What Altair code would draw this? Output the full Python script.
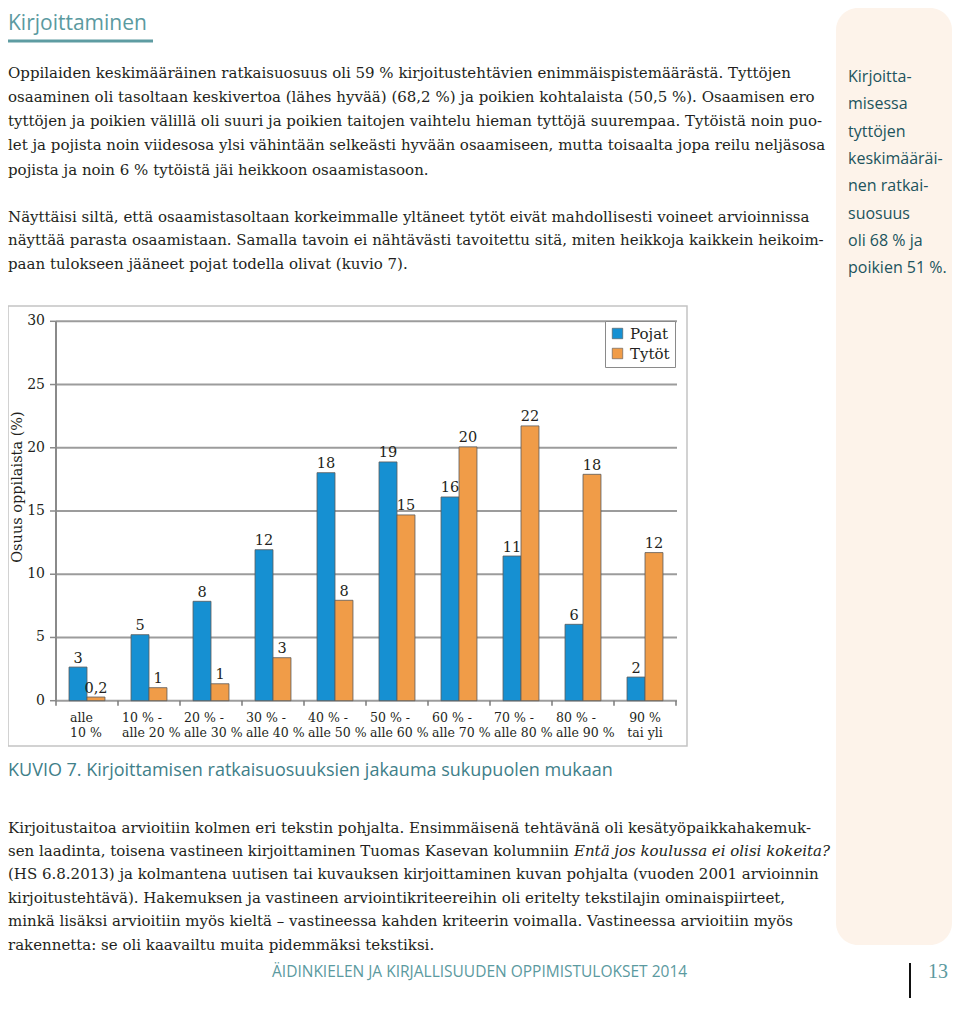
import altair as alt
import pandas as pd

# ---------------- data ----------------
categories = ["alle\n10 %", "10 % -\nalle 20 %", "20 % -\nalle 30 %", "30 % -\nalle 40 %",
              "40 % -\nalle 50 %", "50 % -\nalle 60 %", "60 % -\nalle 70 %", "70 % -\nalle 80 %",
              "80 % -\nalle 90 %", "90 %\ntai yli"]
series = ["Pojat", "Tytöt"]
pojat = [2.66, 5.22, 7.86, 11.94, 18.03, 18.88, 16.11, 11.44, 6.04, 1.87]
tytot = [0.29, 1.03, 1.34, 3.40, 7.94, 14.69, 20.07, 21.73, 17.9, 11.71]
pojat_labels = ["3", "5", "8", "12", "18", "19", "16", "11", "6", "2"]
tytot_labels = ["0,2", "1", "1", "3", "8", "15", "20", "22", "18", "12"]
y_ticks = [0, 5, 10, 15, 20, 25, 30]
y_title = "Osuus oppilaista (%)"

page_title = "Kirjoittaminen"
para1 = [
    "Oppilaiden keskimääräinen ratkaisuosuus oli 59 % kirjoitustehtävien enimmäispistemäärästä.  Tyttöjen",
    "osaaminen oli tasoltaan keskivertoa (lähes hyvää) (68,2 %) ja poikien kohtalaista (50,5 %). Osaamisen ero",
    "tyttöjen ja poikien välillä oli suuri ja poikien taitojen vaihtelu hieman tyttöjä suurempaa. Tytöistä noin puo-",
    "let ja pojista noin viidesosa ylsi vähintään selkeästi hyvään osaamiseen, mutta toisaalta jopa reilu neljäsosa",
    "pojista ja noin 6 % tytöistä jäi heikkoon osaamistasoon.",
]
para2 = [
    "Näyttäisi siltä, että osaamistasoltaan korkeimmalle yltäneet tytöt eivät mahdollisesti voineet arvioinnissa",
    "näyttää parasta osaamistaan. Samalla tavoin ei nähtävästi tavoitettu sitä, miten heikkoja kaikkein heikoim-",
    "paan tulokseen jääneet pojat todella olivat (kuvio 7).",
]
para3 = [
    "Kirjoitustaitoa arvioitiin kolmen eri tekstin pohjalta. Ensimmäisenä tehtävänä oli  kesätyöpaikkahakemuk-",
    "sen laadinta, toisena vastineen kirjoittaminen Tuomas Kasevan kolumniin",
    "(HS 6.8.2013) ja kolmantena uutisen tai kuvauksen kirjoittaminen kuvan pohjalta (vuoden 2001 arvioinnin",
    "kirjoitustehtävä). Hakemuksen ja vastineen arviointikriteereihin oli eritelty tekstilajin ominaispiirteet,",
    "minkä lisäksi arvioitiin myös kieltä – vastineessa kahden kriteerin voimalla. Vastineessa arvioitiin myös",
    "rakennetta: se oli kaavailtu muita pidemmäksi tekstiksi.",
]
para3_italic = "Entä jos koulussa ei olisi kokeita?"
sidebar = ["Kirjoitta-", "misessa", "tyttöjen", "keskimääräi-", "nen ratkai-", "suosuus",
           "oli 68 % ja", "poikien 51 %."]
caption = "KUVIO 7. Kirjoittamisen ratkaisuosuuksien jakauma sukupuolen mukaan"
footer = "ÄIDINKIELEN JA KIRJALLISUUDEN OPPIMISTULOKSET 2014"
page_no = "13"

# ---------------- tables ----------------
rows = []
for i, c in enumerate(categories):
    rows.append({"cat": c, "idx": i, "sex": series[0], "value": pojat[i], "label": pojat_labels[i]})
    rows.append({"cat": c, "idx": i, "sex": series[1], "value": tytot[i], "label": tytot_labels[i]})
bars_df = pd.DataFrame(rows)
cat_df = pd.DataFrame({"cat": categories, "idx": list(range(len(categories)))})
tick_df = pd.DataFrame({"value": y_ticks, "lab": [str(t) for t in y_ticks]})
one = pd.DataFrame({"k": [0]})

# ---------------- geometry (chart px = page px - 8) ----------------
O = 8
X0, X1 = 56 - O, 676 - O
YB, YT = 700.7 - O, 321.3 - O
W, H = 944, 990

SERIF = "DejaVu Serif"
SANS = "Open Sans"
INK = "#231f20"
TEAL = "#5b9aa0"
BLUE = "#1690d2"
ORANGE = "#f09c48"
BODY = 15

x_band = dict(domain=categories, range=[X0, X1], paddingInner=0.42, paddingOuter=0.21)
y_sc = alt.Scale(domain=[0, 30], range=[YB, YT])


def block(lines, x, y, size, font, color, lh, **kw):
    return alt.Chart(one).mark_text(text=lines, align="left", baseline="alphabetic", font=font,
                                    fontSize=size, color=color, lineHeight=lh, **kw).encode(
        x=alt.value(x), y=alt.value(y))


layers = []

# sidebar box
layers.append(alt.Chart(one).mark_rect(color="#fdf3ea", cornerRadius=22).encode(
    x=alt.value(836 - O), x2=alt.value(W), y=alt.value(0), y2=alt.value(945 - O)))

# title + underline
layers.append(block([page_title], 0, 30 - O, 21, SANS, TEAL, 20))
layers.append(alt.Chart(one).mark_rule(color="#5e9ca2", strokeWidth=3).encode(
    x=alt.value(0), x2=alt.value(153 - O), y=alt.value(41 - O)))

# paragraphs
layers.append(block(para1, 0, 77.7 - O, BODY, SERIF, INK, 24.25))
layers.append(block(para2, 0, 221.5 - O, BODY, SERIF, INK, 23.6))
layers.append(block(para3, 0, 832.5 - O, BODY, SERIF, INK, 23.4))
layers.append(block([para3_italic], 574 - O, 832.5 + 23.4 - O, BODY, SERIF, INK, 23.4,
                    fontStyle="italic"))

# sidebar text
layers.append(block(sidebar, 848 - O, 82 - O, 16, SANS, "#21535d", 27.3))

# chart frame
layers.append(alt.Chart(one).mark_rect(fill="white", stroke="#c4c4c4", strokeWidth=1.5).encode(
    x=alt.value(0), x2=alt.value(687 - O), y=alt.value(306 - O), y2=alt.value(746 - O)))

# gridlines
layers.append(alt.Chart(tick_df).mark_rule(color="#9c9c9c", strokeWidth=2).encode(
    y=alt.Y("value:Q", scale=y_sc, axis=None), x=alt.value(X0), x2=alt.value(X1 + 1)))
# y tick marks
layers.append(alt.Chart(tick_df).mark_rule(color="#8a8a8a", strokeWidth=1.5).encode(
    y=alt.Y("value:Q", scale=y_sc, axis=None), x=alt.value(X0 - 6), x2=alt.value(X0)))
# y axis line
layers.append(alt.Chart(one).mark_rule(color="#8a8a8a", strokeWidth=2).encode(
    x=alt.value(X0), y=alt.Y(datum=0, scale=y_sc, axis=None), y2=alt.Y2(datum=30)))
# y tick labels
layers.append(alt.Chart(tick_df).mark_text(align="right", baseline="middle", font=SERIF,
                                           fontSize=14, color=INK).encode(
    y=alt.Y("value:Q", scale=y_sc, axis=None), x=alt.value(45 - O), text="lab:N"))
# y title
layers.append(alt.Chart(one).mark_text(text=y_title, angle=270, align="center", baseline="middle",
                                       font=SERIF, fontSize=14.5, color=INK).encode(
    x=alt.value(10), y=alt.value(487 - O)))

# x tick marks at category boundaries
tick_x = dict(domain=categories, range=[X0, X1], paddingInner=0, paddingOuter=0)
layers.append(alt.Chart(cat_df).mark_rule(color="#7a7a7a", strokeWidth=1.5).encode(
    x=alt.X("cat:N", scale=alt.Scale(**tick_x), axis=None, bandPosition=0),
    y=alt.value(YB), y2=alt.value(YB + 5)))
layers.append(alt.Chart(cat_df).transform_filter(alt.datum.idx == len(categories) - 1).mark_rule(
    color="#7a7a7a", strokeWidth=1.5).encode(
    x=alt.X("cat:N", scale=alt.Scale(**tick_x), axis=None, bandPosition=1),
    y=alt.value(YB), y2=alt.value(YB + 5)))

# bars
layers.append(alt.Chart(bars_df).mark_bar(stroke="#5a5a5a", strokeWidth=0.8).encode(
    x=alt.X("cat:N", scale=alt.Scale(**x_band), axis=None, sort=categories),
    xOffset=alt.XOffset("sex:N", scale=alt.Scale(domain=series, paddingInner=0, paddingOuter=0)),
    y=alt.Y("value:Q", scale=y_sc, axis=None),
    color=alt.Color("sex:N", scale=alt.Scale(domain=series, range=[BLUE, ORANGE]),
                    legend=alt.Legend(title=None, orient="none", legendX=605 - O, legendY=321 - O,
                                      strokeColor="#8a8a8a", fillColor="white", padding=5,
                                      symbolType="square", symbolSize=110, symbolStrokeColor="#555",
                                      symbolStrokeWidth=0.6, labelFont=SERIF, labelFontSize=15,
                                      labelColor=INK, rowPadding=4, labelOffset=5)),
))
# value labels
layers.append(alt.Chart(bars_df).mark_text(baseline="alphabetic", dy=-4.5, font=SERIF, fontSize=14.5,
                                           color=INK).encode(
    x=alt.X("cat:N", scale=alt.Scale(**x_band), axis=None, sort=categories),
    xOffset=alt.XOffset("sex:N", scale=alt.Scale(domain=series, paddingInner=0, paddingOuter=0)),
    y=alt.Y("value:Q", scale=y_sc, axis=None),
    text="label:N"))

# category labels
def cat_labels(filt, align, dx):
    return alt.Chart(cat_df).transform_filter(filt).mark_text(
        align=align, baseline="alphabetic", dx=dx, lineBreak="\n", lineHeight=15, font=SERIF,
        fontSize=12.5, color=INK).encode(
        x=alt.X("cat:N", scale=alt.Scale(**x_band), axis=None, sort=categories),
        y=alt.value(722 - O), text="cat:N")

layers.append(cat_labels(alt.datum.idx == 0, "left", -17))
layers.append(cat_labels((alt.datum.idx > 0) & (alt.datum.idx < 9), "left", -27))
layers.append(cat_labels(alt.datum.idx == 9, "center", 0))

# caption
layers.append(block([caption], 0, 776 - O, 18, SANS, "#3f8089", 20))

# footer
layers.append(block([footer], 272 - O, 977 - O, 15.5, SANS, TEAL, 20))
layers.append(alt.Chart(one).mark_rule(color="#111", strokeWidth=2).encode(
    x=alt.value(910 - O), y=alt.value(963 - O), y2=alt.value(H)))
layers.append(block([page_no], 928 - O, 978 - O, 20, "Liberation Serif", TEAL, 20))

chart = alt.layer(*layers).resolve_scale(x="independent").properties(
    width=W, height=H, padding=0, autosize=alt.AutoSizeParams(type="none")
).configure_view(strokeWidth=0)

chart.save("out.html", embed_options={"renderer": "svg", "actions": False})
